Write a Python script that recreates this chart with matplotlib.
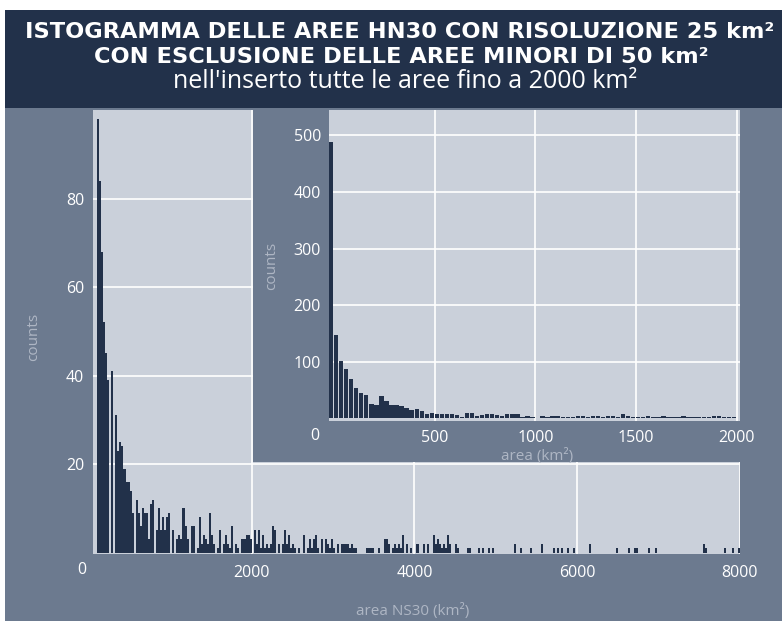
import matplotlib.pyplot as plt
from matplotlib.patches import Rectangle

plt.rcParams['font.family'] = ['Open Sans', 'DejaVu Sans']

NAVY = '#22314a'
SLATE = '#6c7a8f'
PANEL = '#cad0da'
LABEL = '#aeb6c4'

# main histogram (areas >= 50 km2), bins of 25 km2 starting at 100 km2
main_start = 100
main_bin = 25
counts_100_1100 = [98, 84, 68, 52, 45, 39, 0, 41, 0, 31, 23, 25, 24, 19, 16, 16, 14, 9, 0, 12,
                   9, 6, 10, 9, 9, 3, 11, 12, 0, 5, 10, 5, 8, 5, 8, 9, 0, 5, 0, 3]
counts_1100_2025 = [4, 3, 10, 6, 3, 0, 6, 6, 0, 1, 8, 2, 4, 3, 2, 9, 4, 2, 0, 1,
                    5, 0, 2, 4, 2, 1, 6, 0, 2, 1, 0, 3, 3, 4, 4, 3, 0]
counts_2025_4050 = [5, 2, 5, 1, 4, 1, 2, 1, 2, 6, 5, 0, 2, 0, 2, 5, 2, 4, 1, 2,
                    1, 0, 1, 0, 4, 0, 1, 3, 1, 3, 4, 1, 0, 3, 0, 3, 2, 1, 3, 1,
                    0, 2, 0, 2, 2, 2, 2, 1, 2, 1, 1, 0, 0, 0, 0, 1, 1, 1, 1, 0,
                    0, 1, 0, 0, 3, 3, 2, 0, 1, 2, 1, 2, 1, 4, 0, 2, 0, 1, 0, 0, 2]
counts_4050_8000 = [0, 0, 2, 0, 2, 0, 0, 4, 2, 3, 2, 1, 2, 1, 4, 2, 0, 0, 2, 1,
                    0, 0, 0, 0, 1, 1, 0, 0, 0, 1, 0, 1, 0, 0, 1, 0, 1, 0, 0, 0,
                    0, 0, 0, 0, 0, 0, 0, 2, 0, 0, 1, 0, 0, 0, 0, 1, 0, 0, 0, 0,
                    2, 0, 0, 0, 0, 0, 1, 0, 1, 0, 1, 0, 0, 1, 0, 0, 1, 0, 0, 0,
                    0, 0, 0, 0, 2, 0, 0, 0, 0, 0, 0, 0, 0, 0, 0, 0, 0, 1, 0, 0,
                    0, 0, 0, 1, 0, 0, 1, 1, 0, 0, 0, 0, 0, 1, 0, 0, 1, 0, 0, 0,
                    0, 0, 0, 0, 0, 0, 0, 0, 0, 0, 0, 0, 0, 0, 0, 0, 0, 0, 0, 0,
                    2, 1, 0, 0, 0, 0, 0, 0, 0, 0, 1, 0, 0, 0, 1, 0, 0, 1]
main_counts = counts_100_1100 + counts_1100_2025 + counts_2025_4050 + counts_4050_8000

# inset: all areas up to 2000 km2
inset_start = -25
inset_bin = 25
inset_counts = [488, 147, 101, 87, 70, 54, 45, 41, 26, 23, 40, 30, 23, 23, 22, 18, 15, 16, 13, 7,
                10, 7, 7, 7, 7, 6, 2, 10, 10, 4, 6, 7, 7, 6, 5, 7, 7, 7, 3, 4,
                2, 1, 4, 2, 5, 4, 3, 2, 2, 4, 4, 2, 4, 5, 3, 4, 4, 2, 7, 4,
                3, 3, 3, 4, 3, 3, 4, 3, 3, 3, 4, 3, 3, 3, 2, 2, 4, 4, 3, 3, 2]

main_ticks = [2000, 4000, 6000, 8000]
main_yticks = [20, 40, 60, 80]
inset_ticks = [0, 500, 1000, 1500, 2000]
inset_yticks = [100, 200, 300, 400, 500]

W, H = 782, 626
fig = plt.figure(figsize=(W / 100, H / 100), dpi=100)

# background bands
fig.add_artist(Rectangle((5 / W, 1 - 108 / H), 777 / W, 98 / H, transform=fig.transFigure,
                         facecolor=NAVY, edgecolor='none', zorder=-5))
fig.add_artist(Rectangle((5 / W, 1 - 621 / H), 777 / W, 513 / H, transform=fig.transFigure,
                         facecolor=SLATE, edgecolor='none', zorder=-5))

fig.text(400 / W, 1 - 37.5 / H, 'ISTOGRAMMA DELLE AREE HN30 CON RISOLUZIONE 25 km²',
         ha='center', va='baseline', color='white', fontsize=16.2, fontweight='bold',
         family=['DejaVu Sans'])
fig.text(401 / W, 1 - 63 / H, 'CON ESCLUSIONE DELLE AREE MINORI DI 50 km²',
         ha='center', va='baseline', color='white', fontsize=16.2, fontweight='bold',
         family=['DejaVu Sans'])
fig.text(405 / W, 1 - 88 / H, "nell'inserto tutte le aree fino a 2000 km²",
         ha='center', va='baseline', color='white', fontsize=18)


def style(ax, fs=11.5):
    ax.set_facecolor(PANEL)
    for s in ax.spines.values():
        s.set_visible(False)
    ax.tick_params(length=0, colors='white', labelsize=fs, pad=6)
    ax.grid(True, color='white', linewidth=1.2)
    ax.set_axisbelow(True)


# main axes
ax = fig.add_axes([92.7 / W, 1 - 553.5 / H, (740 - 92.7) / W, (553.5 - 110) / H])
style(ax)
main_left = [main_start + main_bin * i for i in range(len(main_counts))]
ax.bar(main_left, main_counts, width=main_bin, align='edge', color=NAVY, linewidth=0)
ax.set_xlim(47, 8000)
ax.set_ylim(-0.2, 100)
ax.set_xticks(main_ticks)
ax.set_yticks(main_yticks)
ax.tick_params(axis='x', pad=8)
ax.annotate('0', xy=(0, 0), xycoords='axes fraction', xytext=(-6, -16.5),
            textcoords='offset pixels', ha='right', va='center', color='white', fontsize=11.5)
ax.set_xlabel('area NS30 (km²)', color=LABEL, fontsize=11)
ax.xaxis.set_label_coords(0.494, -0.112)
ax.set_ylabel('counts', color=LABEL, fontsize=11)
ax.yaxis.set_label_coords(-0.079, 0.488)

# slate block behind the inset
fig.add_artist(Rectangle((253 / W, 1 - 462 / H), (W - 253) / W, (462 - 108) / H,
                         transform=fig.transFigure, facecolor=SLATE, edgecolor='none', zorder=1))

# inset axes
axi = fig.add_axes([329.3 / W, 1 - 420.7 / H, (740 - 329.3) / W, (420.7 - 110) / H])
axi.set_zorder(2)
style(axi)
inset_left = [inset_start + inset_bin * i for i in range(len(inset_counts))]
axi.bar(inset_left, inset_counts, width=inset_bin * 0.86, align='edge', color=NAVY, linewidth=0)
axi.set_xlim(-23, 2016)
axi.set_ylim(-4, 545)
axi.set_xticks(inset_ticks[1:])
axi.set_yticks(inset_yticks)
axi.tick_params(axis='x', pad=7)
axi.annotate('0', xy=(0, 0), xycoords='axes fraction', xytext=(-10, -15),
             textcoords='offset pixels', ha='right', va='center', color='white', fontsize=11.5)
axi.set_xlabel('area (km²)', color=LABEL, fontsize=11)
axi.xaxis.set_label_coords(0.506, -0.088)
axi.set_ylabel('counts', color=LABEL, fontsize=11)
axi.yaxis.set_label_coords(-0.122, 0.498)

plt.savefig('out.png', dpi=100, facecolor='white')
